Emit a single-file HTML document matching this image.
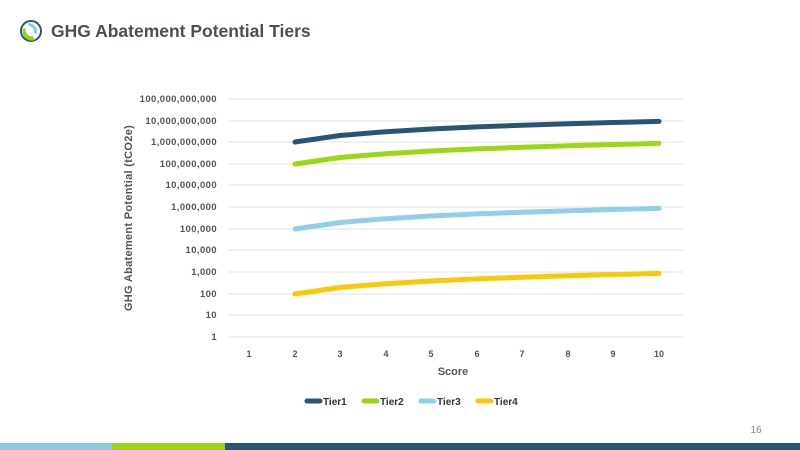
<!DOCTYPE html>
<html><head><meta charset="utf-8"><style>
body{margin:0;width:800px;height:450px;background:#fff;position:relative;overflow:hidden;font-family:"Liberation Sans",sans-serif}
</style></head><body>
<svg width="800" height="450" style="position:absolute;left:0;top:0">
<g transform="translate(31,31)">
<circle r="10" fill="none" stroke="#2d5872" stroke-width="2"/>
<path d="M-8,-2 A9,9 0 0 0 4,9 L2,5 A6,6 0 0 1 -5,-3Z" fill="#9ccc1c"/>
<path d="M-3,-8 A9,9 0 0 1 6,3 L3,2 A6,6 0 0 0 -2,-5Z" fill="#8ec8e0"/>
</g>
<text x="51" y="37" font-size="17.5" font-weight="bold" fill="#4a4f57">GHG Abatement Potential  Tiers</text>
<g stroke="#e2e2e2" stroke-width="1">
<line x1="228" x2="683" y1="99" y2="99"/><line x1="228" x2="683" y1="121" y2="121"/><line x1="228" x2="683" y1="142" y2="142"/><line x1="228" x2="683" y1="164" y2="164"/><line x1="228" x2="683" y1="185" y2="185"/><line x1="228" x2="683" y1="207" y2="207"/><line x1="228" x2="683" y1="229" y2="229"/><line x1="228" x2="683" y1="250" y2="250"/><line x1="228" x2="683" y1="272" y2="272"/><line x1="228" x2="683" y1="294" y2="294"/><line x1="228" x2="683" y1="315" y2="315"/><line x1="228" x2="683" y1="337" y2="337"/>
</g>
<g font-size="9.5" font-weight="bold" fill="#555" text-anchor="end" letter-spacing="0.4">
<text x="217" y="102">100,000,000,000</text><text x="217" y="124">10,000,000,000</text><text x="217" y="145">1,000,000,000</text><text x="217" y="167">100,000,000</text><text x="217" y="188">10,000,000</text><text x="217" y="210">1,000,000</text><text x="217" y="232">100,000</text><text x="217" y="253">10,000</text><text x="217" y="275">1,000</text><text x="217" y="297">100</text><text x="217" y="318">10</text><text x="217" y="340">1</text>
</g>
<g font-size="9" font-weight="bold" fill="#555" text-anchor="middle">
<text x="249" y="357">1</text><text x="295" y="357">2</text><text x="340" y="357">3</text><text x="386" y="357">4</text><text x="431" y="357">5</text><text x="477" y="357">6</text><text x="522" y="357">7</text><text x="568" y="357">8</text><text x="613" y="357">9</text><text x="659" y="357">10</text>
</g>
<text x="453" y="375" font-size="11" font-weight="bold" fill="#555" text-anchor="middle">Score</text>
<text transform="translate(132,218) rotate(-90)" font-size="11" font-weight="bold" fill="#555" text-anchor="middle" letter-spacing="0.3">GHG Abatement Potential (tCO2e)</text>
<g fill="none" stroke-width="5" stroke-linecap="round" stroke-linejoin="round">
<polyline stroke="#2a5572" points="295,142 340,135.5 386,131.7 431,129 477,126.9 522,125.2 568,123.7 613,122.5 659,121.4"/>
<polyline stroke="#9dd612" points="295,164 340,157.5 386,153.7 431,151 477,148.9 522,147.2 568,145.7 613,144.5 659,143.4"/>
<polyline stroke="#8fd0e6" points="295,229 340,222.5 386,218.7 431,216 477,213.9 522,212.2 568,210.7 613,209.5 659,208.4"/>
<polyline stroke="#f7c90a" points="295,294 340,287.5 386,283.7 431,281 477,278.9 522,277.2 568,275.7 613,274.5 659,273.4"/>
</g>
<g stroke-width="5" stroke-linecap="round">
<line x1="307" x2="320" y1="401" y2="401" stroke="#2a5572"/>
<line x1="364" x2="377" y1="401" y2="401" stroke="#9dd612"/>
<line x1="421" x2="434" y1="401" y2="401" stroke="#8fd0e6"/>
<line x1="478" x2="491" y1="401" y2="401" stroke="#f7c90a"/>
</g>
<g font-size="10" font-weight="bold" fill="#333">
<text x="323" y="405">Tier1</text><text x="380" y="405">Tier2</text><text x="437" y="405">Tier3</text><text x="494" y="405">Tier4</text>
</g>
<text x="756" y="433" font-size="10" fill="#888" text-anchor="middle">16</text>
<rect x="0" y="443" width="112" height="7" fill="#8ecae0"/>
<rect x="112" y="443" width="113" height="7" fill="#9dd612"/>
<rect x="225" y="443" width="575" height="7" fill="#2a5572"/>
</svg>
</body></html>
